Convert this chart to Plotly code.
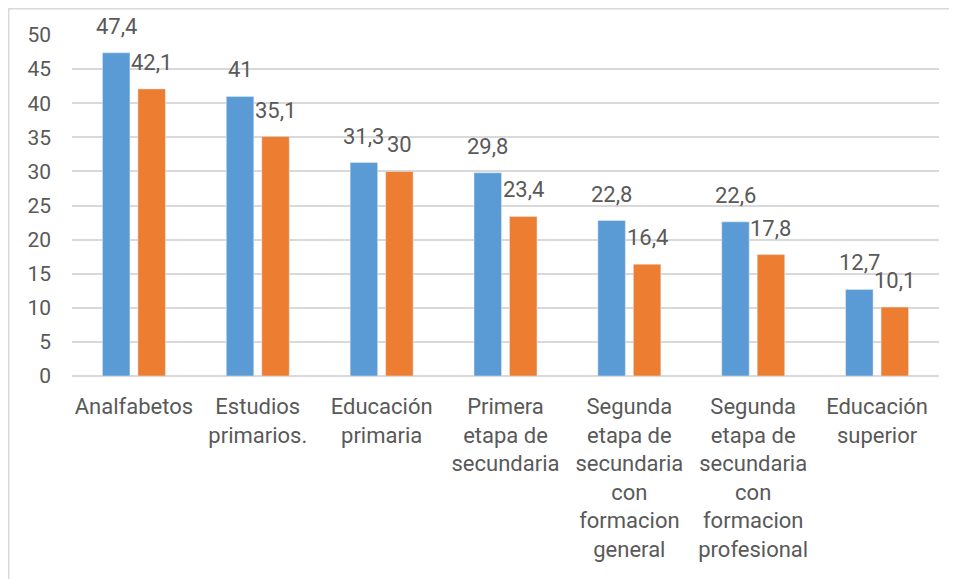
import plotly.graph_objects as go

categories = [
    "Analfabetos",
    "Estudios<br>primarios.",
    "Educación<br>primaria",
    "Primera<br>etapa de<br>secundaria",
    "Segunda<br>etapa de<br>secundaria<br>con<br>formacion<br>general",
    "Segunda<br>etapa de<br>secundaria<br>con<br>formacion<br>profesional",
    "Educación<br>superior",
]
serie_1 = [47.4, 41, 31.3, 29.8, 22.8, 22.6, 12.7]
serie_2 = [42.1, 35.1, 30, 23.4, 16.4, 17.8, 10.1]
y_ticks = [0, 5, 10, 15, 20, 25, 30, 35, 40, 45, 50]

BLUE = "#5B9BD5"
ORANGE = "#ED7D31"
TXT = "#595959"
GRID = "#D9D9D9"
FONT = "Roboto"


def fmt(v):
    s = ("%g" % v).replace(".", ",")
    return s


fig = go.Figure()
fig.add_trace(go.Bar(x=categories, y=serie_1, marker_color=BLUE, name="Serie 1"))
fig.add_trace(go.Bar(x=categories, y=serie_2, marker_color=ORANGE, name="Serie 2"))

annotations = []
for cat, v in zip(categories, serie_1):
    annotations.append(dict(x=cat, y=v, text=fmt(v), showarrow=False, xref="x", yref="y",
                            xshift=-17.75, yanchor="bottom", yshift=12,
                            font=dict(family=FONT, size=22, color=TXT)))
for cat, v in zip(categories, serie_2):
    annotations.append(dict(x=cat, y=v, text=fmt(v), showarrow=False, xref="x", yref="y",
                            xshift=17.75, yanchor="bottom", yshift=12,
                            font=dict(family=FONT, size=22, color=TXT)))

fig.update_layout(
    width=957, height=579,
    margin=dict(l=64, r=26, t=27, b=211, autoexpand=False),
    paper_bgcolor="white", plot_bgcolor="white",
    barmode="group", bargap=0.427, bargroupgap=0.225,
    showlegend=False,
    font=dict(family=FONT, size=22, color=TXT),
    annotations=annotations,
    shapes=[dict(type="rect", xref="paper", yref="paper",
                 x0=-0.073, x1=1.2, y0=-0.8, y1=1.077,
                 line=dict(color=GRID, width=1.5), layer="below")],
)
fig.update_yaxes(range=[0, 50], tickvals=y_ticks, showgrid=True, gridcolor=GRID, gridwidth=1.5,
                 zeroline=True, zerolinecolor=GRID, zerolinewidth=1.5, ticks="",
                 ticklabelstandoff=20, fixedrange=True, automargin=False,
                 tickfont=dict(family=FONT, size=21, color=TXT))
fig.update_xaxes(showgrid=False, showline=False, ticks="", ticklabelstandoff=15, tickangle=0,
                 fixedrange=True, automargin=False,
                 tickfont=dict(family=FONT, size=22, color=TXT))

fig.write_html("out.html")
